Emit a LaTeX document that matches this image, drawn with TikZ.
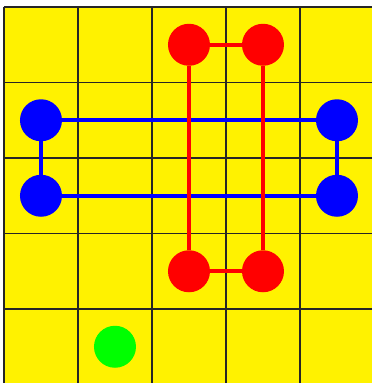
\documentclass[tikz,border=0pt]{standalone}
\begin{document}
\begin{tikzpicture}[
    x=74pt, y=-75.5pt, % one unit = one cell, rows count downwards
    dot/.style={circle, minimum size=42pt, inner sep=0pt}, % Style for the pieces
    gridline/.style={line width=1.6pt, black!85}, % Style for the board lines
    blueline/.style={blue, line width=4pt}, % Style for blue links
    redline/.style={red, line width=4pt}, % Style for red links
  ]

  % Rahmen
  \clip (-0.054,-0.093) rectangle (4.973,4.98);
  \fill[white] (-0.054,-0.093) rectangle (4.973,4.98);
  \fill[yellow] (0,0) rectangle (5,5);
  \foreach \k in {0,...,5} {
    \draw[gridline] (\k,0) -- (\k,5);
    \draw[gridline] (0,\k) -- (5,\k);
  }

  % Steine
  \foreach \n/\x/\y in {b1/0/1, b2/0/2, b3/4/1, b4/4/2}
  \node[dot, fill=blue] (\n) at (\x+0.5, \y+0.5) {};
  \foreach \n/\x/\y in {r1/2/0, r2/3/0, r3/2/3, r4/3/3}
  \node[dot, fill=red] (\n) at (\x+0.5, \y+0.5) {};
  \node[dot, fill=green] (g1) at (1.5, 4.5) {};

  % Verbindungen
  \foreach \i/\j in {b1/b3, b2/b4, b1/b2, b3/b4}
  \draw[blueline] (\i) -- (\j);
  \foreach \i/\j in {r1/r3, r2/r4, r1/r2, r3/r4}
  \draw[redline] (\i) -- (\j);

\end{tikzpicture}
\end{document}
